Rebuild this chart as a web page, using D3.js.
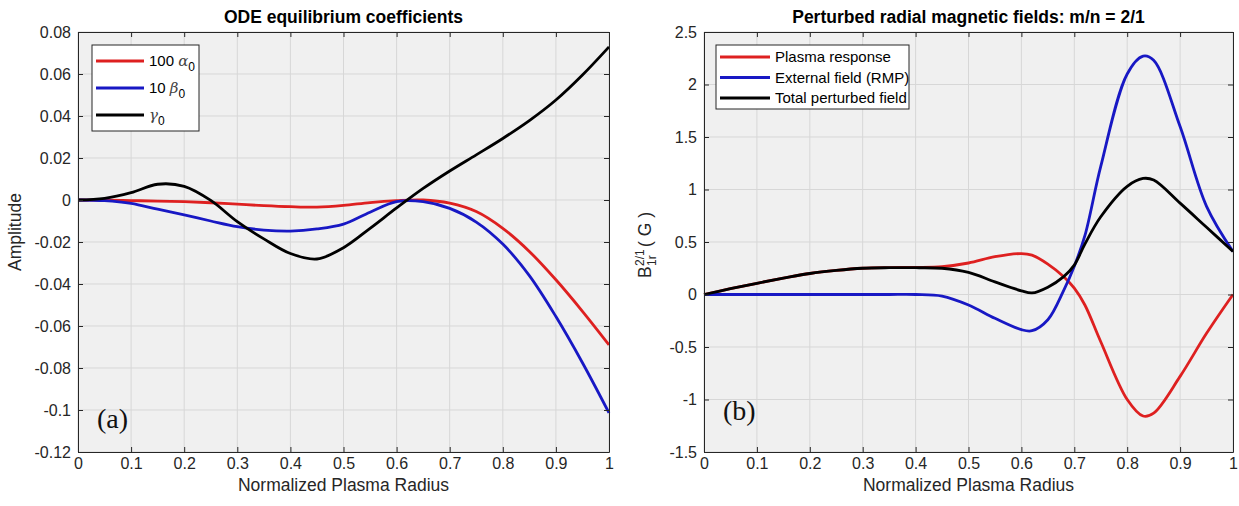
<!DOCTYPE html>
<html>
<head>
<meta charset="utf-8">
<script src="https://cdnjs.cloudflare.com/ajax/libs/d3/7.8.5/d3.min.js"></script>
<style>
  body { margin: 0; background: #fff; }
  svg { font-family: "Liberation Sans", Arial, sans-serif; }
  .tick text { fill: #262626; font-size: 16px; }
  .tick line, .domain { stroke: #262626; }
</style>
</head>
<body>
<svg id="fig" width="1239" height="506"></svg>
<script>
/* ==== data ==== */

// panel (a): ODE equilibrium coefficients
var radiusA = [0, 0.05, 0.1, 0.15, 0.2, 0.25, 0.3, 0.35, 0.4, 0.45, 0.5,
               0.55, 0.6, 0.65, 0.7, 0.75, 0.8, 0.85, 0.9, 0.95, 1];
var alpha100 = [0, -0.0001, -0.0003, -0.0005, -0.0008, -0.0013, -0.002, -0.0027, -0.0032, -0.0034, -0.0026,
                -0.0012, -0.0003, 0, -0.0015, -0.0055, -0.0135, -0.0245, -0.038, -0.053, -0.069];
var beta10 = [0, -0.0003, -0.0016, -0.0044, -0.0071, -0.01, -0.0127, -0.0143, -0.0148, -0.0138, -0.0115,
              -0.0058, -0.0008, -0.0008, -0.004, -0.0105, -0.021, -0.036, -0.0555, -0.0775, -0.1014];
var gamma0 = [0, 0.0008, 0.0035, 0.0075, 0.0065, -0.0002, -0.0103, -0.0185, -0.0255, -0.0281, -0.0227,
              -0.0135, -0.0038, 0.0055, 0.0138, 0.0215, 0.0293, 0.0378, 0.0476, 0.0595, 0.0729];

// panel (b): perturbed radial magnetic fields, m/n = 2/1
var radiusB = [0, 0.05, 0.1, 0.15, 0.2, 0.25, 0.3, 0.35, 0.4, 0.45, 0.5, 0.55, 0.6, 0.62,
               0.65, 0.68, 0.7, 0.72, 0.75, 0.8, 0.83, 0.85, 0.9, 0.95, 1];
var plasmaResp = [0, 0.055, 0.107, 0.155, 0.2, 0.23, 0.25, 0.256, 0.258, 0.265, 0.3, 0.36, 0.39, 0.375,
                  0.29, 0.17, 0.06, -0.1, -0.45, -1.0, -1.157, -1.13, -0.78, -0.37, 0];
var externalRmp = [0, 0, 0, 0, 0, 0, 0, 0, 0, -0.015, -0.1, -0.227, -0.335, -0.345,
                   -0.24, 0.04, 0.27, 0.56, 1.22, 2.1, 2.27, 2.23, 1.6, 0.84, 0.41];
var totalField = [0, 0.055, 0.107, 0.155, 0.2, 0.23, 0.25, 0.255, 0.255, 0.25, 0.21, 0.12, 0.035, 0.015,
                  0.07, 0.17, 0.28, 0.48, 0.74, 1.03, 1.105, 1.09, 0.87, 0.64, 0.41];

// ticks
var xTicks = [0, 0.1, 0.2, 0.3, 0.4, 0.5, 0.6, 0.7, 0.8, 0.9, 1];
var yTicksA = [-0.12, -0.1, -0.08, -0.06, -0.04, -0.02, 0, 0.02, 0.04, 0.06, 0.08];
var yTicksB = [-1.5, -1, -0.5, 0, 0.5, 1, 1.5, 2, 2.5];

var RED = "#de2020", BLUE = "#1818c4", BLACK = "#000";

var svg = d3.select("#fig");

/* ==== draws one axes box ==== */
function drawPanel(p) {
  var x = d3.scaleLinear().domain([0, 1]).range([p.left, p.right]);
  var y = d3.scaleLinear().domain(p.yDomain).range([p.bottom, p.top]);
  var g = svg.append("g");

  g.append("rect")
    .attr("x", p.left).attr("y", p.top)
    .attr("width", p.right - p.left).attr("height", p.bottom - p.top)
    .attr("fill", "#f0f0f0");

  // grid
  g.selectAll(".gx").data(xTicks).enter().append("line")
    .attr("x1", function(d) { return x(d); }).attr("x2", function(d) { return x(d); })
    .attr("y1", p.top).attr("y2", p.bottom)
    .attr("stroke", "#d7d7d7");
  g.selectAll(".gy").data(p.yTicks).enter().append("line")
    .attr("y1", function(d) { return y(d); }).attr("y2", function(d) { return y(d); })
    .attr("x1", p.left).attr("x2", p.right)
    .attr("stroke", "#d7d7d7");

  // curves
  var line = d3.line()
    .x(function(d) { return x(d[0]); })
    .y(function(d) { return y(d[1]); })
    .curve(d3.curveCatmullRom.alpha(0.5));
  p.series.forEach(function(s) {
    g.append("path")
      .datum(d3.zip(p.radius, s.values))
      .attr("d", line)
      .attr("fill", "none")
      .attr("stroke", s.color)
      .attr("stroke-width", 2.8)
      .attr("stroke-linejoin", "round");
  });

  // box with inward ticks on all four sides
  var fmt = function(d) { return String(d); };
  g.append("g").attr("transform", "translate(0," + p.bottom + ")")
    .call(d3.axisBottom(x).tickValues(xTicks).tickFormat(fmt)
      .tickSizeInner(-5).tickSizeOuter(0).tickPadding(6));
  g.append("g").attr("transform", "translate(0," + p.top + ")")
    .call(d3.axisTop(x).tickValues(xTicks).tickFormat("")
      .tickSizeInner(-5).tickSizeOuter(0));
  g.append("g").attr("transform", "translate(" + p.left + ",0)")
    .call(d3.axisLeft(y).tickValues(p.yTicks).tickFormat(fmt)
      .tickSizeInner(-5).tickSizeOuter(0).tickPadding(7));
  g.append("g").attr("transform", "translate(" + p.right + ",0)")
    .call(d3.axisRight(y).tickValues(p.yTicks).tickFormat("")
      .tickSizeInner(-5).tickSizeOuter(0));
  g.selectAll(".tick text").attr("font-family", null).attr("font-size", null);

  // title and x label
  var cx = (p.left + p.right) / 2;
  g.append("text").attr("x", cx).attr("y", 23)
    .attr("text-anchor", "middle").attr("font-weight", "bold")
    .attr("font-size", 17.5).attr("fill", "#000")
    .text(p.title);
  g.append("text").attr("x", cx).attr("y", 491)
    .attr("text-anchor", "middle").attr("font-size", 17.5).attr("fill", "#262626")
    .text("Normalized Plasma Radius");

  // panel tag
  g.append("text").attr("x", p.left + 19).attr("y", p.tagY)
    .attr("font-family", "'Liberation Serif', 'Times New Roman', serif")
    .attr("font-size", 28).attr("fill", "#111")
    .text(p.tag);

  // legend
  var L = p.legend;
  var lg = g.append("g");
  lg.append("rect")
    .attr("x", L.x).attr("y", L.y).attr("width", L.w).attr("height", L.h)
    .attr("fill", "#fff").attr("stroke", "#262626").attr("stroke-width", 1);
  p.series.forEach(function(s, i) {
    var ly = L.y + L.first + i * L.step;
    lg.append("line")
      .attr("x1", L.x + 4).attr("x2", L.x + 4 + L.len)
      .attr("y1", ly).attr("y2", ly)
      .attr("stroke", s.color).attr("stroke-width", 3);
    var t = lg.append("text")
      .attr("x", L.x + 9 + L.len).attr("y", ly + 5)
      .attr("font-size", 15).attr("fill", "#000");
    if (s.greek) {
      if (s.coef) t.append("tspan").text(s.coef + " ");
      t.append("tspan")
        .attr("font-family", "'DejaVu Serif', serif").attr("font-style", "italic")
        .attr("fill", "#444").text(s.greek);
      t.append("tspan").attr("font-size", 12).attr("dy", 5).text("0");
    } else {
      t.text(s.name);
    }
  });

  return { x: x, y: y };
}

/* ==== panel (a) ==== */
drawPanel({
  left: 78, right: 609, top: 32, bottom: 452,
  yDomain: [-0.12, 0.08], yTicks: yTicksA,
  radius: radiusA,
  title: "ODE equilibrium coefficients",
  tag: "(a)", tagY: 428,
  series: [
    { values: alpha100, color: RED, coef: "100", greek: "\u03b1" },
    { values: beta10, color: BLUE, coef: "10", greek: "\u03b2" },
    { values: gamma0, color: BLACK, coef: "", greek: "\u03b3" }
  ],
  legend: { x: 92, y: 45, w: 107, h: 86, first: 16, step: 27, len: 48 }
});

svg.append("text")
  .attr("transform", "translate(21,232) rotate(-90)")
  .attr("text-anchor", "middle").attr("font-size", 17.5).attr("fill", "#262626")
  .text("Amplitude");

/* ==== panel (b) ==== */
drawPanel({
  left: 704, right: 1233, top: 32, bottom: 452,
  yDomain: [-1.5, 2.5], yTicks: yTicksB,
  radius: radiusB,
  title: "Perturbed radial magnetic fields: m/n = 2/1",
  tag: "(b)", tagY: 420,
  series: [
    { values: plasmaResp, color: RED, name: "Plasma response" },
    { values: externalRmp, color: BLUE, name: "External field (RMP)" },
    { values: totalField, color: BLACK, name: "Total perturbed field" }
  ],
  legend: { x: 716, y: 45, w: 193, h: 64, first: 12, step: 20.5, len: 50 }
});

// B^{2/1}_{1r} ( G )
var yl = svg.append("g")
  .attr("transform", "translate(651,244) rotate(-90)")
  .attr("fill", "#262626");
yl.append("text").attr("x", -34).attr("y", 0).attr("font-size", 17.5).text("B");
yl.append("text").attr("x", -22).attr("y", -7).attr("font-size", 12).text("2/1");
yl.append("text").attr("x", -22).attr("y", 5).attr("font-size", 12).text("1r");
yl.append("text").attr("x", -3).attr("y", 0).attr("font-size", 17.5).text("( G )");
</script>
</body>
</html>
